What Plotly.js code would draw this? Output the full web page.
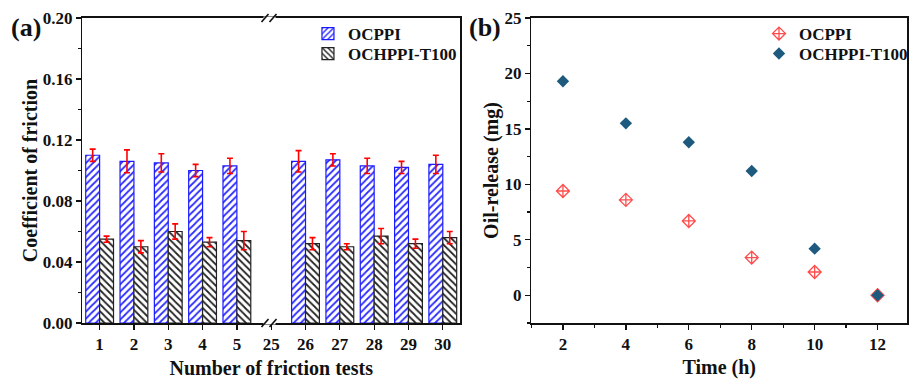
<!DOCTYPE html>
<html>
<head>
<meta charset="utf-8">
<script src="https://cdn.plot.ly/plotly-3.0.1.min.js"></script>
<style>html,body{margin:0;padding:0;background:#fff;}#chart{width:913px;height:379px;}</style>
</head>
<body>
<div id="chart"></div>
<script>
// Panel (a): coefficient of friction
const testLabels = ['1','2','3','4','5','25','26','27','28','29','30'];
const ocppiCof = [0.110, 0.106, 0.105, 0.100, 0.103, null, 0.106, 0.107, 0.103, 0.102, 0.104];
const ocppiErr = [0.004, 0.0075, 0.006, 0.004, 0.005, null, 0.007, 0.004, 0.005, 0.004, 0.006];
const ochppiCof = [0.055, 0.050, 0.060, 0.053, 0.054, null, 0.052, 0.050, 0.057, 0.052, 0.056];
const ochppiErr = [0.002, 0.004, 0.005, 0.003, 0.006, null, 0.004, 0.002, 0.005, 0.003, 0.004];

// Panel (b): oil release
const timeH = [2, 4, 6, 8, 10, 12];
const ocppiOil = [9.4, 8.6, 6.7, 3.4, 2.1, 0.0];
const ochppiOil = [19.3, 15.5, 13.8, 11.2, 4.2, 0.0];

const FONT = '"Liberation Serif", "Times New Roman", Times, serif';
const W = 913, H = 379;

const traces = [
  {
    type: 'bar', x: testLabels, y: ocppiCof, name: 'OCPPI', xaxis: 'x', yaxis: 'y', legend: 'legend',
    marker: {color: '#ffffff', line: {color: '#1a1aff', width: 1.2},
      pattern: {shape: '/', fgcolor: '#2a2aff', bgcolor: '#ffffff', size: 5, solidity: 0.35}},
    error_y: {type: 'data', array: ocppiErr, visible: true, color: '#ff0000', thickness: 1.6, width: 3}
  },
  {
    type: 'bar', x: testLabels, y: ochppiCof, name: 'OCHPPI-T100', xaxis: 'x', yaxis: 'y', legend: 'legend3',
    marker: {color: '#ffffff', line: {color: '#222222', width: 1.2},
      pattern: {shape: '\\', fgcolor: '#222222', bgcolor: '#ffffff', size: 5, solidity: 0.35}},
    error_y: {type: 'data', array: ochppiErr, visible: true, color: '#ff0000', thickness: 1.6, width: 3}
  },
  {
    type: 'scatter', mode: 'markers', x: timeH, y: ocppiOil, name: 'OCPPI', xaxis: 'x2', yaxis: 'y2', legend: 'legend2',
    marker: {symbol: 'diamond-cross-open', size: 10, color: '#ff4d4d', line: {width: 1.3, color: '#ff4d4d'}}
  },
  {
    type: 'scatter', mode: 'markers', x: timeH, y: ochppiOil, name: 'OCHPPI-T100', xaxis: 'x2', yaxis: 'y2', legend: 'legend4',
    marker: {symbol: 'diamond', size: 9.5, color: '#1d5a7e', line: {width: 0}}
  }
];

const tickFont = {family: FONT, size: 17, color: '#111', weight: 'bold'};
const titleFont = {family: FONT, size: 20, color: '#111', weight: 'bold'};
const legFont = {family: FONT, size: 17, color: '#111', weight: 'bold'};

const commonAxis = {
  showline: true, linecolor: '#111', linewidth: 1.6, mirror: true, showgrid: false, zeroline: false,
  ticks: 'outside', ticklen: 5, tickwidth: 1.3, tickcolor: '#111', tickfont: tickFont, automargin: false
};

const px = v => v / W, py = v => 1 - v / H;

function breakShapes(yv) {
  return [
    {type: 'line', xref: 'x', yref: 'paper', xsizemode: 'pixel', xanchor: 4.95, x0: -6, x1: 6,
      y0: yv, y1: yv, line: {color: '#ffffff', width: 3}},
    {type: 'line', xref: 'x', yref: 'paper', xsizemode: 'pixel', ysizemode: 'pixel', xanchor: 4.95, yanchor: yv,
      x0: -8, x1: -1, y0: -4, y1: 4, line: {color: '#111', width: 1.6}},
    {type: 'line', xref: 'x', yref: 'paper', xsizemode: 'pixel', ysizemode: 'pixel', xanchor: 4.95, yanchor: yv,
      x0: 0, x1: 7, y0: -4, y1: 4, line: {color: '#111', width: 1.6}}
  ];
}

function leg(xp, yTop) {
  return {x: px(xp), y: py(yTop), xanchor: 'left', yanchor: 'top', bgcolor: 'rgba(0,0,0,0)',
    font: legFont, itemwidth: 30, borderwidth: 0};
}

const layout = {
  width: W, height: H, margin: {l: 0, r: 0, t: 0, b: 0},
  paper_bgcolor: '#fff', plot_bgcolor: '#fff',
  font: {family: FONT, color: '#111'},
  barmode: 'group', bargap: 0.19, bargroupgap: 0,
  showlegend: true,
  xaxis: Object.assign({}, commonAxis, {
    domain: [px(83), px(463)], type: 'category', anchor: 'y',
    categoryorder: 'array', categoryarray: testLabels, range: [-0.5, 10.5],
    title: {text: 'Number of friction tests', font: titleFont, standoff: 8}
  }),
  yaxis: Object.assign({}, commonAxis, {
    domain: [py(323), py(18)], anchor: 'x', range: [0, 0.2],
    tickvals: [0, 0.04, 0.08, 0.12, 0.16, 0.20], ticktext: ['0.00','0.04','0.08','0.12','0.16','0.20'],
    minor: {tickvals: [0.02, 0.06, 0.10, 0.14, 0.18], ticklen: 3, tickcolor: '#111', ticks: 'outside'},
    title: {text: 'Coefficient of friction', font: titleFont, standoff: 0}
  }),
  xaxis2: Object.assign({}, commonAxis, {
    domain: [px(535), 1], anchor: 'y2', range: [1, 1 + (913 - 535) / 31.67],
    tickvals: [2, 4, 6, 8, 10, 12],
    minor: {tickvals: [1, 3, 5, 7, 9, 11], ticklen: 3, tickcolor: '#111', ticks: 'outside'},
    title: {text: 'Time (h)', font: titleFont, standoff: 8}
  }),
  yaxis2: Object.assign({}, commonAxis, {
    domain: [py(323), py(18)], anchor: 'x2', range: [-2.5, 25],
    tickvals: [0, 5, 10, 15, 20, 25],
    minor: {tickvals: [-2.5, 2.5, 7.5, 12.5, 17.5, 22.5], ticklen: 3, tickcolor: '#111', ticks: 'outside'},
    title: {text: 'Oil-release (mg)', font: titleFont, standoff: 0}
  }),
  legend: leg(310, 16),
  legend3: leg(310, 36),
  legend2: leg(764, 16),
  legend4: leg(764, 36),
  annotations: [
    {text: '<b>(a)</b>', xref: 'paper', yref: 'paper', x: px(9), y: py(11), xanchor: 'left', yanchor: 'top',
      showarrow: false, font: {family: FONT, size: 26, color: '#111'}},
    {text: '<b>(b)</b>', xref: 'paper', yref: 'paper', x: px(470), y: py(11), xanchor: 'left', yanchor: 'top',
      showarrow: false, font: {family: FONT, size: 26, color: '#111'}}
  ],
  shapes: breakShapes(py(323)).concat(breakShapes(py(18)))
};

Plotly.newPlot('chart', traces, layout, {displayModeBar: false, staticPlot: true});
</script>
</body>
</html>
